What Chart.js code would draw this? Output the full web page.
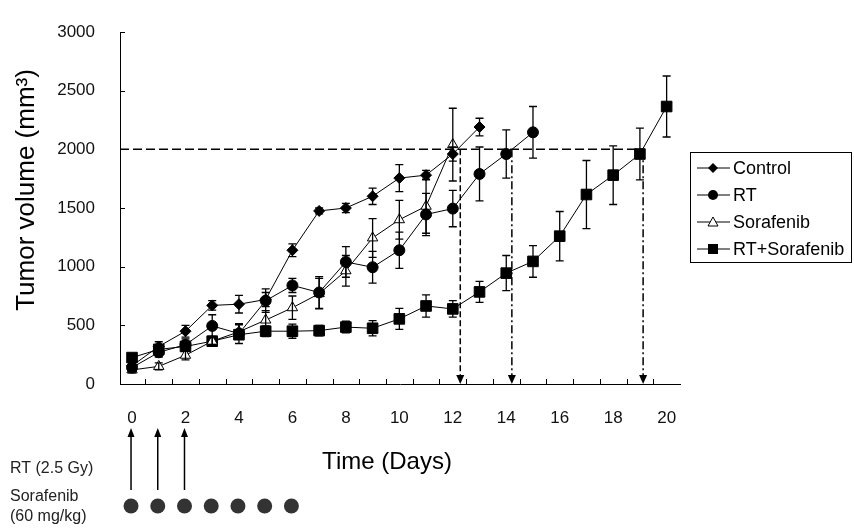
<!DOCTYPE html>
<html>
<head>
<meta charset="utf-8">
<script src="https://cdn.jsdelivr.net/npm/chart.js@4.4.0/dist/chart.umd.min.js"></script>
<style>
    html, body { margin: 0; padding: 0; background: #fff; }
    #wrap { position: relative; width: 854px; height: 531px; }
</style>
</head>
<body>
<div id="wrap"><canvas id="tumorChart" width="854" height="531"></canvas></div>
<script>
// days after start of treatment
const days = [0, 1, 2, 3, 4, 5, 6, 7, 8, 9, 10, 11, 12, 13, 14, 15, 16, 17, 18, 19, 20];
const xLabelDays = [0, 2, 4, 6, 8, 10, 12, 14, 16, 18, 20];
const yTickValues = [0, 500, 1000, 1500, 2000, 2500, 3000];

// mean tumor volume (mm3) and error per group
const controlVol = [155, 320, 450, 670, 680, 720, 1140, 1475, 1500, 1600, 1755, 1780, 1960, 2190];
const controlErr = [25, 40, 50, 40, 75, 60, 55, 25, 40, 70, 115, 40, 60, 75];
const rtVol = [140, 270, 335, 495, 430, 710, 840, 780, 1040, 995, 1140, 1445, 1495, 1790, 1960, 2145];
const rtErr = [30, 40, 50, 95, 85, 100, 60, 135, 130, 135, 155, 180, 155, 230, 205, 220];
const sorVol = [120, 150, 245, 365, 445, 545, 650, 770, 965, 1245, 1400, 1515, 2040];
const sorErr = [25, 30, 40, 40, 60, 80, 100, 130, 130, 165, 165, 230, 310];
const comboVol = [225, 295, 320, 365, 420, 450, 450, 455, 485, 475, 555, 665, 640, 785, 945, 1045, 1260, 1615, 1780, 1960, 2365];
const comboErr = [25, 30, 40, 30, 40, 45, 60, 45, 50, 65, 90, 95, 70, 90, 150, 135, 210, 290, 250, 220, 260];

// 2000 mm3 level and the day each group reaches it
const targetVolume = 2000;
const crossDays = [12.28, 14.21, 19.12];
const crossDash = [[6, 3], [8, 3, 2, 3], [8, 3, 2, 3]];

// treatment schedule
const rtDoseDays = [0, 1, 2];
const sorafenibDays = [0, 1, 2, 3, 4, 5, 6];

const groupNames = ["Control", "RT", "Sorafenib", "RT+Sorafenib"];
const groupStyles = ["rectRot", "circle", "triangle", "rect"];

const toPoints = (vals) => vals.map((v, i) => ({ x: days[i], y: v }));

const seriesList = [
    { vals: controlVol, err: controlErr },
    { vals: rtVol, err: rtErr },
    { vals: sorVol, err: sorErr },
    { vals: comboVol, err: comboErr }
];

const drawMarker = (ctx, style, x, y) => {
    ctx.save();
    ctx.fillStyle = "#000";
    ctx.strokeStyle = "#000";
    ctx.lineWidth = 1;
    ctx.beginPath();
    if (style == "rectRot") {
        ctx.moveTo(x, y - 5); ctx.lineTo(x + 5, y); ctx.lineTo(x, y + 5); ctx.lineTo(x - 5, y);
        ctx.closePath(); ctx.fill();
    } else if (style == "circle") {
        ctx.arc(x, y, 5, 0, Math.PI * 2); ctx.fill();
    } else if (style == "triangle") {
        ctx.moveTo(x, y - 5); ctx.lineTo(x + 5, y + 4); ctx.lineTo(x - 5, y + 4);
        ctx.closePath(); ctx.fillStyle = "#fff"; ctx.fill(); ctx.stroke();
    } else {
        ctx.rect(x - 5, y - 5, 10, 10); ctx.fill();
    }
    ctx.restore();
}

const refLines = {
    id: "refLines",
    beforeDatasetsDraw(chart) {
        const ctx = chart.ctx;
        const xs = chart.scales.x, ys = chart.scales.y;
        const yT = ys.getPixelForValue(targetVolume);
        const y0 = ys.getPixelForValue(0);
        ctx.save();
        ctx.strokeStyle = "#000";
        ctx.lineWidth = 1.5;
        ctx.setLineDash([9, 4]);
        ctx.beginPath();
        ctx.moveTo(chart.chartArea.left, yT);
        ctx.lineTo(xs.getPixelForValue(crossDays[crossDays.length - 1]), yT);
        ctx.stroke();
        crossDays.forEach((d, i) => {
            const px = xs.getPixelForValue(d);
            ctx.setLineDash(crossDash[i]);
            ctx.beginPath();
            ctx.moveTo(px, yT);
            ctx.lineTo(px, y0 - 7);
            ctx.stroke();
            ctx.setLineDash([]);
            ctx.fillStyle = "#000";
            ctx.beginPath();
            ctx.moveTo(px - 4, y0 - 9);
            ctx.lineTo(px + 4, y0 - 9);
            ctx.lineTo(px, y0);
            ctx.closePath();
            ctx.fill();
        });
        ctx.restore();
    }
};

const errorBars = {
    id: "errorBars",
    afterDatasetsDraw(chart) {
        const ctx = chart.ctx;
        const xs = chart.scales.x, ys = chart.scales.y;
        ctx.save();
        ctx.strokeStyle = "#000";
        ctx.lineWidth = 1.3;
        seriesList.forEach(s => {
            s.vals.forEach((v, i) => {
                const px = xs.getPixelForValue(days[i]);
                const top = ys.getPixelForValue(v + s.err[i]);
                const bot = ys.getPixelForValue(v - s.err[i]);
                ctx.beginPath();
                ctx.moveTo(px, top); ctx.lineTo(px, bot);
                ctx.moveTo(px - 4, top); ctx.lineTo(px + 4, top);
                ctx.moveTo(px - 4, bot); ctx.lineTo(px + 4, bot);
                ctx.stroke();
            });
        });
        ctx.restore();
    }
};

const extras = {
    id: "extras",
    afterDraw(chart) {
        const ctx = chart.ctx;
        const xs = chart.scales.x, ys = chart.scales.y;
        const area = chart.chartArea;
        ctx.save();
        ctx.strokeStyle = "#000";
        ctx.lineWidth = 1;
        // inward tick marks
        ctx.beginPath();
        yTickValues.forEach(v => {
            const py = Math.round(ys.getPixelForValue(v)) + 0.5;
            ctx.moveTo(area.left, py); ctx.lineTo(area.left + 5, py);
        });
        for (let i = 0; i < days.length - 1; i++) {
            const px = Math.round(xs.getPixelForValue(days[i] + 0.5)) + 0.5;
            ctx.moveTo(px, area.bottom); ctx.lineTo(px, area.bottom - 5);
        }
        ctx.stroke();

        // axis titles
        ctx.fillStyle = "#000";
        ctx.textAlign = "center";
        ctx.textBaseline = "middle";
        ctx.font = "24px 'Liberation Sans', Arial, sans-serif";
        ctx.fillText("Time (Days)", 387, 462);
        ctx.save();
        ctx.translate(27, 190);
        ctx.rotate(-Math.PI / 2);
        ctx.font = "26px 'Liberation Sans', Arial, sans-serif";
        ctx.fillText("Tumor volume (mm\u00b3)", 0, 0);
        ctx.restore();

        // legend
        ctx.strokeRect(690.5, 152.5, 161, 110);
        ctx.font = "18px 'Liberation Sans', Arial, sans-serif";
        ctx.textAlign = "left";
        groupNames.forEach((name, i) => {
            const ly = 168 + i * 27;
            ctx.beginPath();
            ctx.moveTo(697, ly); ctx.lineTo(730, ly);
            ctx.stroke();
            drawMarker(ctx, groupStyles[i], 713, ly);
            ctx.fillText(name, 733, ly + 1);
        });

        // treatment schedule
        ctx.font = "16px 'Liberation Sans', Arial, sans-serif";
        ctx.fillStyle = "#222";
        ctx.fillText("RT (2.5 Gy)", 10, 469);
        ctx.fillText("Sorafenib", 10, 497);
        ctx.fillText("(60 mg/kg)", 10, 517);
        ctx.fillStyle = "#000";
        ctx.lineWidth = 1.5;
        rtDoseDays.forEach(d => {
            const px = xs.getPixelForValue(d) - 1;
            ctx.beginPath();
            ctx.moveTo(px, 490); ctx.lineTo(px, 434);
            ctx.stroke();
            ctx.beginPath();
            ctx.moveTo(px - 3.5, 437); ctx.lineTo(px + 3.5, 437); ctx.lineTo(px, 428);
            ctx.closePath(); ctx.fill();
        });
        ctx.fillStyle = "#333";
        sorafenibDays.forEach(d => {
            const px = xs.getPixelForValue(d) - 1;
            ctx.beginPath();
            ctx.arc(px, 506, 7.5, 0, Math.PI * 2);
            ctx.fill();
        });
        ctx.restore();
    }
};

const makeSet = (label, vals, style, radius, fill) => ({
    label: label,
    data: toPoints(vals),
    borderColor: "#000",
    borderWidth: 1,
    pointStyle: style,
    pointRadius: radius,
    pointBackgroundColor: fill,
    pointBorderColor: "#000",
    pointBorderWidth: 1,
    tension: 0
});

const config = {
    type: "line",
    data: {
        datasets: [
            makeSet("Control", controlVol, "rectRot", 5.5, "#000"),
            makeSet("RT", rtVol, "circle", 5.5, "#000"),
            makeSet("Sorafenib", sorVol, "triangle", 6, "#fff"),
            makeSet("RT+Sorafenib", comboVol, "rect", 7.5, "#000")
        ]
    },
    options: {
        responsive: false,
        animation: false,
        layout: { padding: { left: 0, top: 32, right: 174, bottom: 0 } },
        plugins: {
            legend: { display: false },
            tooltip: { enabled: false }
        },
        scales: {
            x: {
                type: "linear",
                min: -0.45,
                max: 20.5,
                afterFit: (scale) => { scale.height = 147; },
                afterBuildTicks: (scale) => { scale.ticks = xLabelDays.map(v => ({ value: v })); },
                grid: { display: false },
                border: { display: true, color: "#000", width: 1 },
                ticks: {
                    autoSkip: false,
                    maxRotation: 0,
                    padding: 16,
                    color: "#111",
                    callback: (v) => String(v),
                    font: { family: "'Liberation Sans', Arial, sans-serif", size: 17 }
                }
            },
            y: {
                min: 0,
                max: 3000,
                afterFit: (scale) => { scale.width = 120; },
                afterBuildTicks: (scale) => { scale.ticks = yTickValues.map(v => ({ value: v })); },
                grid: { display: false },
                border: { display: true, color: "#000", width: 1 },
                ticks: {
                    padding: 17,
                    color: "#111",
                    callback: (v) => String(v),
                    font: { family: "'Liberation Sans', Arial, sans-serif", size: 17 }
                }
            }
        }
    },
    plugins: [refLines, errorBars, extras]
};

new Chart(document.getElementById("tumorChart"), config);
</script>
</body>
</html>
